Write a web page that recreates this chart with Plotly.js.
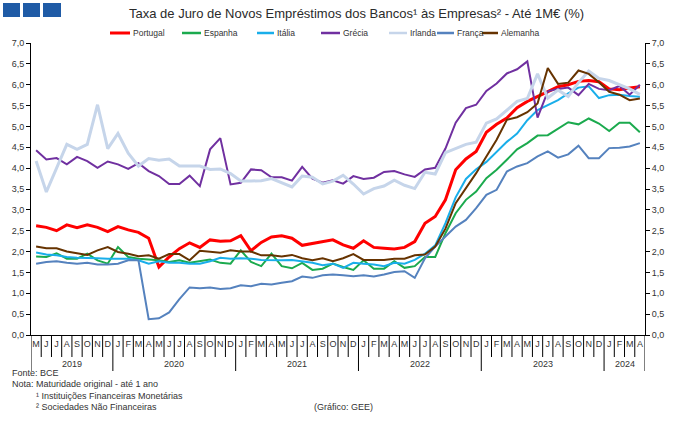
<!DOCTYPE html>
<html>
<head>
<meta charset="utf-8">
<script src="https://cdn.plot.ly/plotly-3.0.1.min.js"></script>
<style>
  html, body { margin: 0; padding: 0; background: #fff; }
  #chart { width: 680px; height: 421px; }
</style>
</head>
<body>
<div id="chart"></div>
<script>
// Meses: maio 2019 a abril 2024 (mensal)
const mesesAno = ['J', 'F', 'M', 'A', 'M', 'J', 'J', 'A', 'S', 'O', 'N', 'D'];
const anos = ['2019', '2020', '2021', '2022', '2023', '2024'];
const mesesPorAno = [8, 12, 12, 12, 12, 4];

// Taxas de juro (%) por país
const portugal = [
  2.62, 2.58, 2.50, 2.64, 2.57, 2.64, 2.58, 2.48, 2.60, 2.52, 2.46, 2.32,
  1.63, 1.87, 2.07, 2.21, 2.10, 2.28, 2.25, 2.26, 2.38, 2.02, 2.22, 2.35,
  2.38, 2.32, 2.15, 2.19, 2.24, 2.28, 2.16, 2.08, 2.26, 2.10, 2.08, 2.06,
  2.10, 2.24, 2.68, 2.84, 3.24, 3.96, 4.22, 4.40, 4.86, 5.05, 5.20, 5.45,
  5.60, 5.72, 5.84, 5.95, 6.00, 6.08, 6.10, 6.07, 5.90, 5.88, 5.92, 5.95
];
const espanha = [
  1.88, 1.87, 1.96, 1.83, 1.83, 1.95, 1.79, 1.71, 2.11, 1.87, 1.83, 1.81,
  1.79, 1.75, 1.79, 1.73, 1.77, 1.81, 1.73, 1.71, 2.03, 1.75, 1.65, 1.95,
  1.65, 1.60, 1.73, 1.56, 1.59, 1.71, 1.63, 1.56, 1.79, 1.59, 1.59, 1.77,
  1.61, 1.65, 1.87, 1.87, 2.44, 2.92, 3.24, 3.44, 3.76, 3.96, 4.20, 4.45,
  4.60, 4.78, 4.79, 4.94, 5.10, 5.05, 5.19, 5.07, 4.89, 5.09, 5.09, 4.86
];
const italia = [
  1.98, 1.93, 1.91, 1.87, 1.85, 1.85, 1.84, 1.83, 1.83, 1.83, 1.79, 1.71,
  1.77, 1.73, 1.73, 1.71, 1.71, 1.77, 1.85, 1.83, 1.84, 1.83, 1.80, 1.79,
  1.79, 1.80, 1.77, 1.73, 1.67, 1.71, 1.61, 1.73, 1.71, 1.69, 1.65, 1.73,
  1.71, 1.80, 1.95, 2.15, 2.68, 3.30, 3.74, 3.97, 4.15, 4.40, 4.63, 4.83,
  5.15, 5.39, 5.51, 5.63, 5.79, 5.93, 5.96, 5.68, 5.75, 5.76, 5.73, 5.71
];
const grecia = [
  4.43, 4.21, 4.24, 4.09, 4.27, 4.17, 4.01, 4.16, 4.09, 3.98, 4.12, 3.93,
  3.81, 3.62, 3.62, 3.82, 3.57, 4.45, 4.72, 3.61, 3.65, 3.97, 3.95, 3.78,
  3.78, 3.70, 4.03, 3.75, 3.65, 3.71, 3.63, 3.81, 3.74, 3.77, 3.91, 3.93,
  3.85, 3.79, 3.97, 4.01, 4.47, 5.09, 5.44, 5.52, 5.85, 6.03, 6.27, 6.37,
  6.56, 5.21, 5.84, 5.90, 5.93, 5.75, 6.02, 5.90, 5.87, 5.97, 5.76, 6.00
];
const irlanda = [
  4.17, 3.43, 4.00, 4.57, 4.45, 4.57, 5.52, 4.47, 4.83, 4.36, 4.05, 4.23,
  4.19, 4.22, 4.05, 4.05, 4.05, 3.97, 3.98, 3.87, 3.69, 3.69, 3.70, 3.75,
  3.65, 3.55, 3.81, 3.78, 3.62, 3.69, 3.83, 3.62, 3.38, 3.51, 3.57, 3.71,
  3.59, 3.51, 3.90, 3.86, 4.37, 4.47, 4.57, 4.62, 5.08, 5.18, 5.40, 5.60,
  5.67, 6.26, 5.68, 5.87, 5.72, 6.05, 6.33, 6.15, 6.10, 6.00, 5.90, 5.77
];
const franca = [
  1.71, 1.75, 1.77, 1.73, 1.71, 1.73, 1.69, 1.69, 1.71, 1.79, 1.79, 0.38,
  0.40, 0.54, 0.86, 1.14, 1.12, 1.14, 1.10, 1.12, 1.19, 1.17, 1.23, 1.21,
  1.25, 1.29, 1.40, 1.37, 1.43, 1.45, 1.43, 1.41, 1.43, 1.40, 1.45, 1.51,
  1.53, 1.37, 1.84, 2.12, 2.36, 2.60, 2.76, 3.04, 3.36, 3.48, 3.92, 4.04,
  4.12, 4.28, 4.40, 4.25, 4.33, 4.54, 4.24, 4.24, 4.48, 4.49, 4.52, 4.60
];
const alemanha = [
  2.12, 2.08, 2.08, 2.00, 1.96, 1.92, 2.03, 2.11, 1.99, 1.95, 1.89, 1.91,
  1.83, 1.94, 1.94, 1.79, 2.02, 1.99, 1.97, 2.03, 2.00, 2.00, 1.91, 1.91,
  1.88, 1.92, 1.84, 1.79, 1.84, 1.77, 1.84, 1.94, 1.80, 1.80, 1.80, 1.83,
  1.83, 1.91, 1.93, 2.12, 2.55, 3.16, 3.52, 3.88, 4.28, 4.68, 5.16, 5.22,
  5.34, 5.55, 6.40, 6.02, 6.05, 6.34, 6.26, 6.06, 5.83, 5.76, 5.63, 5.67
];

const nomes = ['Portugal', 'Espanha', 'Itália', 'Grécia', 'Irlanda', 'França', 'Alemanha'];
const valores = [portugal, espanha, italia, grecia, irlanda, franca, alemanha];
const cores = ['#FF0000', '#1BAA4E', '#19AEEA', '#7030A0', '#C6D5EA', '#5582BE', '#663300'];
const espessuras = [3, 2, 2, 2, 3, 2, 2];

// Rótulos do eixo horizontal: letra de cada mês
const rotulosMes = mesesAno.slice(4)
  .concat(mesesAno, mesesAno, mesesAno, mesesAno, mesesAno.slice(0, 4));
const idx = rotulosMes.map((_, i) => i);

// Área de desenho em píxeis
const W = 680, H = 421;
const L = 31, R = 645, T = 43, B = 335;
const px = v => (v - L) / (R - L);
const py = v => (B - v) / (B - T);

const fonte = 'Liberation Sans, Arial, sans-serif';
const cinza = '#333333';

const traces = valores.map((v, k) => ({
  x: idx, y: v, type: 'scatter', mode: 'lines', name: nomes[k],
  line: { color: cores[k], width: espessuras[k] },
  showlegend: false, hoverinfo: 'skip'
}));
// traço invisível para o eixo da direita
traces.push({ x: [idx[0]], y: [0], yaxis: 'y2', mode: 'markers',
  marker: { opacity: 0 }, showlegend: false, hoverinfo: 'skip' });

const shapes = [];
const annotations = [];

// Logótipo: três quadrados azuis
[[3, 20], [23, 40], [43, 61]].forEach(([a, b]) => shapes.push({
  type: 'rect', xref: 'paper', yref: 'paper',
  x0: px(a), x1: px(b), y0: py(3), y1: py(17),
  fillcolor: '#1F5BA6', line: { width: 0 }
}));

// Separadores dos meses e dos anos no eixo horizontal
let fimAno = [];
let acc = 0;
mesesPorAno.forEach(n => { acc += n; fimAno.push(acc); });
for (let i = 0; i <= idx.length; i++) {
  const limiteAno = i === 0 || fimAno.includes(i);
  shapes.push({
    type: 'line', xref: 'x', yref: 'paper',
    x0: i - 0.5, x1: i - 0.5, y0: 0, y1: limiteAno ? py(371) : py(357),
    line: { color: '#000', width: 1 }
  });
}

// Anos centrados no respetivo bloco de meses
let inicio = 0;
anos.forEach((a, k) => {
  const n = mesesPorAno[k];
  annotations.push({
    text: a, xref: 'x', yref: 'paper', x: inicio + (n - 1) / 2, y: py(364),
    showarrow: false, xanchor: 'center', yanchor: 'middle',
    font: { family: fonte, size: 9, color: cinza }
  });
  inicio += n;
});

// Legenda
const legX = [110, 182, 257, 321, 389, 437, 482];
const legLen = [20, 19, 17, 19, 18, 17, 16];
nomes.forEach((n, k) => {
  shapes.push({
    type: 'line', xref: 'paper', yref: 'paper',
    x0: px(legX[k]), x1: px(legX[k] + legLen[k]), y0: py(33), y1: py(33),
    line: { color: cores[k], width: k === 0 ? 3 : 2.5 }
  });
  annotations.push({
    text: n, xref: 'paper', yref: 'paper',
    x: px(legX[k] + legLen[k] + 1), y: py(33),
    showarrow: false, xanchor: 'left', yanchor: 'middle',
    font: { family: fonte, size: 8.5, color: cinza }
  });
});

// Título
annotations.push({
  text: 'Taxa de Juro de Novos Empréstimos dos Bancos¹ às Empresas² - Até 1M€ (%)',
  xref: 'paper', yref: 'paper', x: px(356), y: py(13),
  showarrow: false, xanchor: 'center', yanchor: 'middle',
  font: { family: fonte, size: 13, color: '#2a2a2a' }
});

// Notas de rodapé
const notas = [
  ['Fonte: BCE', 10, 373],
  ['Nota: Maturidade original - até 1 ano', 10, 384],
  ['¹ Instituições Financeiras Monetárias', 34, 396],
  ['² Sociedades Não Financeiras', 34, 407],
  ['(Gráfico: GEE)', 312, 407]
];
notas.forEach(([t, x, y]) => annotations.push({
  text: t, xref: 'paper', yref: 'paper', x: px(x), y: py(y),
  showarrow: false, xanchor: 'left', yanchor: 'middle',
  font: { family: fonte, size: 9, color: cinza }
}));

const eixoY = {
  range: [0, 7], dtick: 0.5, tick0: 0, tickformat: '.1f',
  ticks: 'outside', ticklen: 4, tickcolor: '#000', tickwidth: 1,
  showline: true, linecolor: '#000', linewidth: 1,
  showgrid: false, zeroline: false, fixedrange: true,
  tickfont: { family: fonte, size: 9, color: cinza }
};

const layout = {
  width: W, height: H,
  margin: { l: L, r: W - R, t: T, b: H - B, pad: 0 },
  paper_bgcolor: '#fff', plot_bgcolor: '#fff',
  separators: ',.',
  showlegend: false,
  xaxis: {
    range: [-0.5, idx.length - 0.5], tickvals: idx, ticktext: rotulosMes,
    ticks: '', showline: true, linecolor: '#000', linewidth: 1,
    showgrid: false, zeroline: false, fixedrange: true,
    tickfont: { family: fonte, size: 9, color: cinza }
  },
  yaxis: Object.assign({}, eixoY),
  yaxis2: Object.assign({}, eixoY, { overlaying: 'y', side: 'right' }),
  shapes: shapes,
  annotations: annotations
};

Plotly.newPlot('chart', traces, layout, { staticPlot: true, displayModeBar: false });
</script>
</body>
</html>
